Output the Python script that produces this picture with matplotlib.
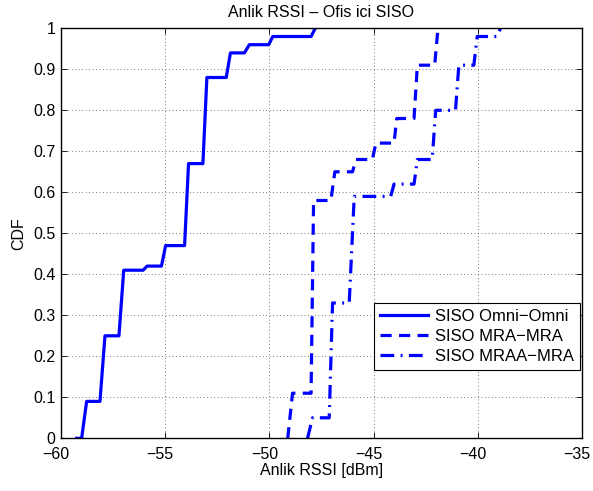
import matplotlib
matplotlib.use("Agg")
import matplotlib.pyplot as plt
import matplotlib.transforms as mtransforms

plt.rcParams['font.family'] = ['Liberation Sans', 'DejaVu Sans']

# CDF vertices (x in dBm, y = CDF)
omni_x = [-59.25, -59.01, -58.77, -58.13, -57.89, -57.22, -56.99, -56.06, -55.87,
          -55.18, -54.98, -54.07, -53.88, -53.19, -53.00, -52.07, -51.87, -51.20,
          -50.96, -50.03, -49.84, -48.00, -47.80]
omni_y = [0.0, 0.0, 0.09, 0.09, 0.25, 0.25, 0.41, 0.41, 0.42,
          0.42, 0.47, 0.47, 0.67, 0.67, 0.88, 0.88, 0.94, 0.94,
          0.96, 0.96, 0.98, 0.98, 1.0]

mra_x = [-49.12, -48.89, -48.00, -47.88, -47.05, -46.86, -46.01, -45.85,
         -45.06, -44.89, -44.02, -43.89, -43.06, -42.90, -42.07, -41.91]
mra_y = [0.0, 0.11, 0.11, 0.58, 0.58, 0.65, 0.65, 0.68,
         0.68, 0.72, 0.72, 0.78, 0.78, 0.91, 0.91, 1.0]

mraa_x = [-48.17, -47.93, -47.13, -46.97, -46.17, -45.93, -44.18, -44.02, -43.06,
          -42.90, -42.19, -42.02, -41.07, -40.91, -40.19, -40.03, -39.08, -38.91]
mraa_y = [0.0, 0.05, 0.05, 0.33, 0.33, 0.59, 0.59, 0.62, 0.62,
          0.68, 0.68, 0.80, 0.80, 0.91, 0.91, 0.98, 0.98, 1.0]

labels = ['SISO Omni\u2212Omni', 'SISO MRA\u2212MRA', 'SISO MRAA\u2212MRA']
xticks = [-60, -55, -50, -45, -40, -35]
yticks = [0, 0.1, 0.2, 0.3, 0.4, 0.5, 0.6, 0.7, 0.8, 0.9, 1]
ytick_labels = ['0', '0.1', '0.2', '0.3', '0.4', '0.5', '0.6', '0.7', '0.8', '0.9', '1']

fig = plt.figure(figsize=(5.93, 4.91), dpi=100)
ax = fig.add_axes([61 / 593, 1 - 438.3 / 491, 521 / 593, 410 / 491])

blue = '#0000ff'
ax.plot(omni_x, omni_y, color=blue, linewidth=2.3, linestyle='-', label=labels[0])
ax.plot(mra_x, mra_y, color=blue, linewidth=2.3, linestyle=(0, (3.5, 2.3)), label=labels[1])
ax.plot(mraa_x, mraa_y, color=blue, linewidth=2.3, linestyle=(0, (4.3, 2, 0.6, 2)),
        label=labels[2])

ax.set_xlim(-60, -35)
ax.set_ylim(0, 1)
ax.set_xticks(xticks)
ax.set_xticklabels([str(t).replace('-', '\u2212') for t in xticks])
ax.set_yticks(yticks)
ax.set_yticklabels(ytick_labels)
ax.tick_params(direction='in', top=True, right=True, labelsize=11.5, length=4, width=0.6)
ax.tick_params(axis='y', pad=4)
ax.tick_params(axis='x', pad=6)
ax.grid(True, color='black', linestyle=(0, (1, 4)), linewidth=0.5)
for s in ax.spines.values():
    s.set_linewidth(1.0)

# MATLAB-style x tick labels sit a little left of their ticks
offset = mtransforms.ScaledTranslation(-5 / 100, 0, fig.dpi_scale_trans)
for lab in ax.get_xticklabels():
    lab.set_transform(lab.get_transform() + offset)

ax.set_xlabel('Anlik RSSI [dBm]', fontsize=11.5, labelpad=1)
ax.set_ylabel('CDF', fontsize=11.5, labelpad=5)
ax.set_title('Anlik RSSI \u2013 Ofis ici SISO', fontsize=11.5, pad=8)

leg = ax.legend(loc='lower left', bbox_to_anchor=((374 - 61) / 521, (438.3 - 370) / 410,
                                                  (580 - 374) / 521, (370 - 297) / 410),
                mode='expand', fontsize=12, fancybox=False, framealpha=1,
                edgecolor='black', borderpad=0.35, labelspacing=0.3, handlelength=2.9,
                handletextpad=0.4, borderaxespad=0)
leg.get_frame().set_linewidth(0.8)

fig.savefig('out.png', dpi=100)
